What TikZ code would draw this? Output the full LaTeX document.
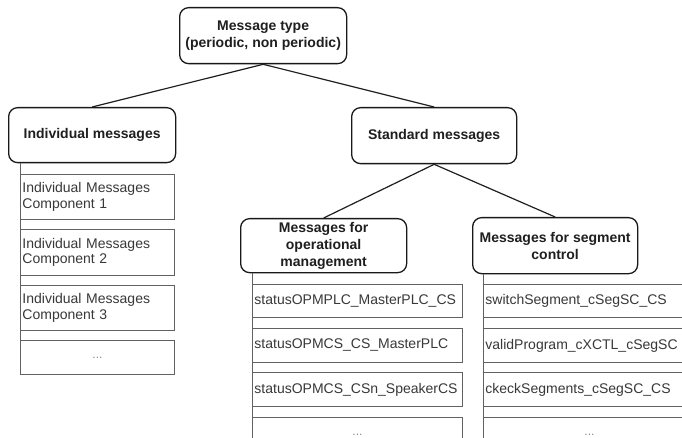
\documentclass[tikz,border=0pt]{standalone}
\usepackage{fontspec}
\setmainfont{Liberation Sans}
\begin{document}
\begin{tikzpicture}[x=1pt,y=-1pt,
  titlebox/.style={draw=black!90, line width=1.3pt, rounded corners=9pt,
    font=\bfseries\fontsize{14}{17}\selectfont, text=black!88, align=center,
    inner sep=0pt, anchor=north west},
  itembox/.style={draw=black!62, line width=0.9pt, anchor=north west,
    font=\fontsize{14}{15.5}\selectfont, text=black!78, align=left,
    inner xsep=2pt, inner ysep=0pt},
  dotsbox/.style={itembox, align=center, font=\fontsize{12}{13}\selectfont, text=black!45},
  link/.style={draw=black!88, line width=1.2pt},
  spine/.style={draw=black!62, line width=0.9pt}
]
\useasboundingbox (0,0) rectangle (682,438);
\fill[white] (0,0) rectangle (682,438);
\clip (0,0) rectangle (682,438);

% tree of message categories
\node[titlebox, minimum width=167pt, minimum height=56pt] (type) at (179,7)
  {Message type\\(periodic, non periodic)};
\node[titlebox, minimum width=167pt, minimum height=55pt] (indiv) at (8,107)
  {Individual messages};
\node[titlebox, minimum width=165pt, minimum height=56pt] (std) at (351,107)
  {Standard messages};
\node[titlebox, minimum width=166pt, minimum height=54pt] (opm) at (240,218)
  {Messages for\\operational\\management};
\node[titlebox, minimum width=165pt, minimum height=56pt] (seg) at (472,217)
  {Messages for segment\\control};

\draw[link] (type.south) -- (indiv.north);
\draw[link] (type.south) -- (std.north);
\draw[link] (std.south) -- (opm.north);
\draw[link] (std.south) -- (seg.north);

% individual messages list
\node[itembox, text width=150pt, minimum height=45pt] (i1) at (20,174)
  {Individual Messages\\Component 1};
\node[itembox, text width=150pt, minimum height=46pt] (i2) at (20,229)
  {Individual Messages\\Component 2};
\node[itembox, text width=150pt, minimum height=45pt] (i3) at (20,285)
  {Individual Messages\\Component 3};
\node[dotsbox, text width=150pt, minimum height=34pt] (i4) at (20,340) {...};
\draw[spine] (indiv.south -| i1.west) -- (i4.south west);

% operational management list
\node[itembox, text width=206pt, minimum height=33pt] (o1) at (252,284)
  {statusOPMPLC\_MasterPLC\_CS};
\node[itembox, text width=206pt, minimum height=34pt] (o2) at (252,328)
  {statusOPMCS\_CS\_MasterPLC};
\node[itembox, text width=206pt, minimum height=34pt] (o3) at (252,372)
  {statusOPMCS\_CSn\_SpeakerCS};
\node[dotsbox, text width=206pt, minimum height=34pt] (o4) at (252,417) {...};
\draw[spine] (opm.south -| o1.west) -- (o4.south west);

% segment control list
\node[itembox, text width=208pt, minimum height=33pt] (s1) at (483,284)
  {switchSegment\_cSegSC\_CS};
\node[itembox, text width=208pt, minimum height=34pt] (s2) at (483,328)
  {validProgram\_cXCTL\_cSegSC};
\node[itembox, text width=208pt, minimum height=34pt] (s3) at (483,372)
  {ckeckSegments\_cSegSC\_CS};
\node[dotsbox, text width=208pt, minimum height=34pt] (s4) at (483,417) {...};
\draw[spine] (seg.south -| s1.west) -- (s4.south west);
\end{tikzpicture}
\end{document}
